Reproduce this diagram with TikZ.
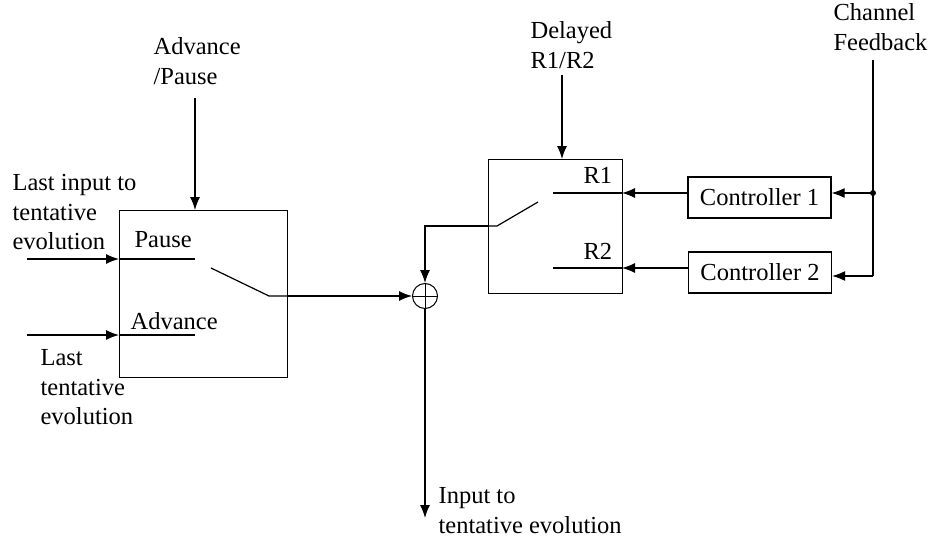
\documentclass[tikz,border=0pt]{standalone}
\usepackage{fontspec}
\setmainfont{Liberation Serif}
\usetikzlibrary{arrows.meta}
\begin{document}
\begin{tikzpicture}[x=1pt,y=-1pt,
  line width=1.2pt,
  arr/.style={-{Latex[length=13pt,width=10pt]}},
  blk/.style={draw, line width=1.2pt, inner sep=0pt},
  lbl/.style={inner sep=0pt, anchor=north west, align=left, font=\fontsize{24.5}{29.5}\selectfont},
  ctl/.style={draw, line width=1.2pt, minimum width=143pt, minimum height=41pt, inner sep=0pt, font=\fontsize{24.5}{29.5}\selectfont}]
\useasboundingbox (0,0) rectangle (932,543);
% blocks
\node[blk, minimum width=168pt, minimum height=167pt, anchor=north west] (lb) at (119,210) {};
\node[blk, minimum width=134pt, minimum height=134pt, anchor=north west] (rb) at (488,159) {};
\node[ctl] (c1) at (759.5,197.5) {Controller 1};
\node[ctl] (c2) at (760,272.5) {Controller 2};
\node[draw, circle, minimum size=25pt, inner sep=0pt, line width=1pt] (sum) at (425,296) {};
\draw[line width=1pt] (sum.north) -- (sum.south) (sum.west) -- (sum.east);
% labels
\node[lbl] (t1) at (12,174) {Last input to\\tentative\\evolution};
\node[lbl] (t2) at (40,349) {Last\\tentative\\evolution};
\node[lbl] (t3) at (153,37) {Advance\\/Pause};
\node[lbl] (t4) at (134,231) {Pause};
\node[lbl] (t5) at (130,312) {Advance};
\node[lbl] (t6) at (530,21) {Delayed\\R1/R2};
\node[lbl] (t7) at (583,167) {R1};
\node[lbl] (t8) at (583,243) {R2};
\node[lbl] (t9) at (833,3) {Channel\\Feedback};
\node[lbl] (t10) at (438,487) {Input to\\tentative evolution};
% coordinates
\coordinate (pin) at (27,259);
\coordinate (ain) at (27,335);
\coordinate (pend) at (195,259);
\coordinate (aend) at (195,335);
\coordinate (sw1a) at (211,268);
\coordinate (sw1b) at (269,296);
\coordinate (aptop) at (195,98);
\coordinate (dtop) at (562,75);
\coordinate (r1a) at (553,193);
\coordinate (r1b) at (622,193);
\coordinate (r2a) at (553,268);
\coordinate (r2b) at (622,268);
\coordinate (sw2a) at (538,202);
\coordinate (sw2b) at (497,226);
\coordinate (sw2c) at (488,226);
\coordinate (out) at (425,518);
\coordinate (fbtop) at (873,60);
\coordinate (fbdot) at (873,193);
\coordinate (fbbot) at (873,276);
% left box
\draw[arr] (pin) -- (lb.west |- pin);
\draw (lb.west |- pin) -- (pend);
\draw[arr] (ain) -- (lb.west |- ain);
\draw (lb.west |- ain) -- (aend);
\draw[arr] (aptop) -- (lb.north -| aptop);
\draw (sw1a) -- (sw1b) -- (sw1b -| lb.east);
\draw[arr] (sw1b -| lb.east) -- (sum.west);
% right box
\draw[arr] (dtop) -- (rb.north -| dtop);
\draw (r1a) -- (r1b);
\draw (r2a) -- (r2b);
\draw (sw2a) -- (sw2b) -- (sw2c);
\draw[arr] (sw2c) -- (sw2c -| sum) -- (sum.north);
\draw[arr] (c1.west |- r1b) -- (r1b);
\draw[arr] (c2.west |- r2b) -- (r2b);
% feedback
\draw (fbtop) -- (fbbot);
\draw[arr] (fbdot) -- (c1.east |- fbdot);
\draw[arr] (fbbot) -- (c2.east |- fbbot);
\fill (fbdot) circle (3pt);
% output
\draw[arr] (sum.south) -- (out);
\end{tikzpicture}
\end{document}
